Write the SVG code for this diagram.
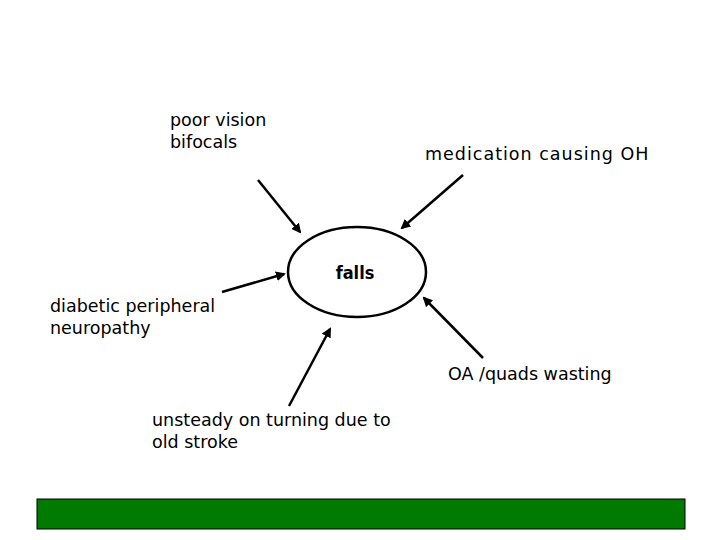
<svg xmlns="http://www.w3.org/2000/svg" width="720" height="540" viewBox="0 0 720 540">
<style>
.t{font-family:"DejaVu Sans","Liberation Sans",sans-serif;font-size:17.5px;fill:#000}
.c{stroke:#000;stroke-width:2.5;fill:none;marker-end:url(#ah)}
</style>
<defs>
<marker id="ah" markerWidth="10" markerHeight="10" refX="8" refY="5" orient="auto" markerUnits="userSpaceOnUse">
<path d="M0,0 L10,5 L0,10 z" fill="#000"/>
</marker>
</defs>
<rect width="720" height="540" fill="#fff"/>
<g id="falls">
<ellipse cx="357" cy="272" rx="69" ry="45" fill="none" stroke="#000" stroke-width="2.5"/>
<text x="355" y="279" text-anchor="middle" style="font-family:'DejaVu Sans Condensed','DejaVu Sans',sans-serif;font-size:18px;font-weight:bold">falls</text>
</g>
<g id="vision"><text class="t" x="170" y="126">poor vision</text><text class="t" x="170" y="148">bifocals</text></g>
<g id="medication"><text class="t" x="425" y="160" letter-spacing="1">medication causing OH</text></g>
<g id="neuropathy"><text class="t" x="50" y="312">diabetic peripheral</text><text class="t" x="50" y="334">neuropathy</text></g>
<g id="oa"><text class="t" x="448" y="380">OA /quads wasting</text></g>
<g id="stroke"><text class="t" x="152" y="426">unsteady on turning due to</text><text class="t" x="152" y="448">old stroke</text></g>
<g id="connectors">
<line class="c" x1="258" y1="180" x2="300" y2="232"/>
<line class="c" x1="463" y1="175" x2="402" y2="228"/>
<line class="c" x1="222" y1="292" x2="284" y2="274"/>
<line class="c" x1="483" y1="358" x2="424" y2="298"/>
<line class="c" x1="289" y1="406" x2="330" y2="329"/>
</g>
<rect id="bar" x="37" y="499" width="648" height="30" fill="#007a00" stroke="#000" stroke-width="1"/>
</svg>
